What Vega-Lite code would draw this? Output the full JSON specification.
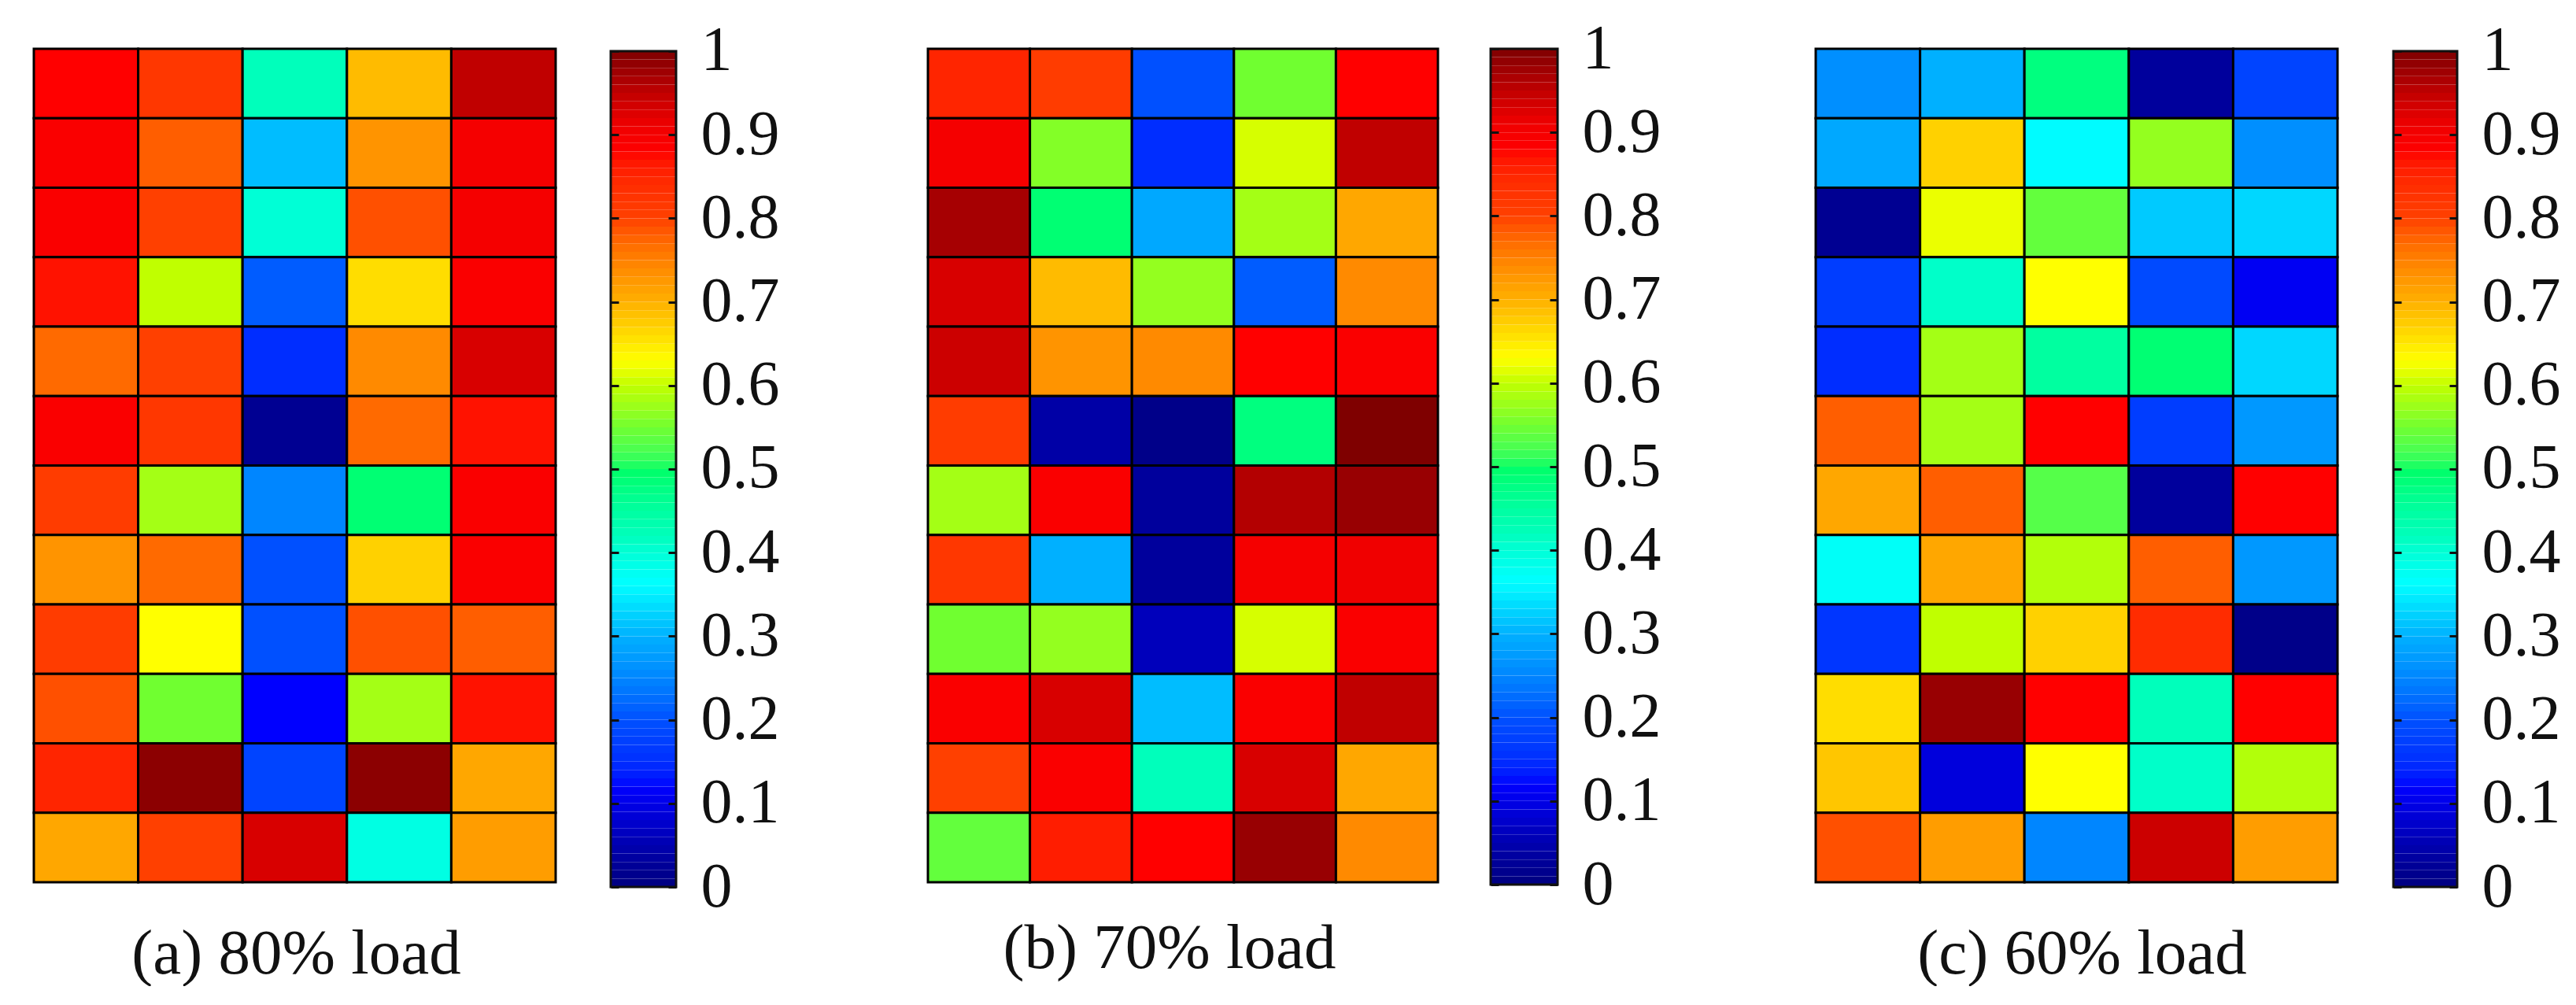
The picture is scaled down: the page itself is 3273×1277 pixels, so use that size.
{
  "$schema": "https://vega.github.io/schema/vega-lite/v6.json",
  "background": "white",
  "padding": {"left": 41, "top": 22, "right": 0, "bottom": 0},
  "spacing": 195,
  "config": {
    "view": {"stroke": null},
    "title": {"font": "Liberation Serif", "fontWeight": "normal", "fontSize": 81, "color": "#111", "orient": "bottom", "offset": 50},
    "axis": {"labelFont": "Liberation Serif", "labelFontSize": 80, "labelColor": "#111"}
  },
  "datasets": {
    "colorbar": [
      {"lo":0,"hi":0.01,"v":0.005},{"lo":0.01,"hi":0.02,"v":0.015},{"lo":0.02,"hi":0.03,"v":0.025},{"lo":0.03,"hi":0.04,"v":0.035},{"lo":0.04,"hi":0.05,"v":0.045},{"lo":0.05,"hi":0.06,"v":0.055},{"lo":0.06,"hi":0.07,"v":0.065},{"lo":0.07,"hi":0.08,"v":0.075},{"lo":0.08,"hi":0.09,"v":0.085},{"lo":0.09,"hi":0.1,"v":0.095},
      {"lo":0.1,"hi":0.11,"v":0.105},{"lo":0.11,"hi":0.12,"v":0.115},{"lo":0.12,"hi":0.13,"v":0.125},{"lo":0.13,"hi":0.14,"v":0.135},{"lo":0.14,"hi":0.15,"v":0.145},{"lo":0.15,"hi":0.16,"v":0.155},{"lo":0.16,"hi":0.17,"v":0.165},{"lo":0.17,"hi":0.18,"v":0.175},{"lo":0.18,"hi":0.19,"v":0.185},{"lo":0.19,"hi":0.2,"v":0.195},
      {"lo":0.2,"hi":0.21,"v":0.205},{"lo":0.21,"hi":0.22,"v":0.215},{"lo":0.22,"hi":0.23,"v":0.225},{"lo":0.23,"hi":0.24,"v":0.235},{"lo":0.24,"hi":0.25,"v":0.245},{"lo":0.25,"hi":0.26,"v":0.255},{"lo":0.26,"hi":0.27,"v":0.265},{"lo":0.27,"hi":0.28,"v":0.275},{"lo":0.28,"hi":0.29,"v":0.285},{"lo":0.29,"hi":0.3,"v":0.295},
      {"lo":0.3,"hi":0.31,"v":0.305},{"lo":0.31,"hi":0.32,"v":0.315},{"lo":0.32,"hi":0.33,"v":0.325},{"lo":0.33,"hi":0.34,"v":0.335},{"lo":0.34,"hi":0.35,"v":0.345},{"lo":0.35,"hi":0.36,"v":0.355},{"lo":0.36,"hi":0.37,"v":0.365},{"lo":0.37,"hi":0.38,"v":0.375},{"lo":0.38,"hi":0.39,"v":0.385},{"lo":0.39,"hi":0.4,"v":0.395},
      {"lo":0.4,"hi":0.41,"v":0.405},{"lo":0.41,"hi":0.42,"v":0.415},{"lo":0.42,"hi":0.43,"v":0.425},{"lo":0.43,"hi":0.44,"v":0.435},{"lo":0.44,"hi":0.45,"v":0.445},{"lo":0.45,"hi":0.46,"v":0.455},{"lo":0.46,"hi":0.47,"v":0.465},{"lo":0.47,"hi":0.48,"v":0.475},{"lo":0.48,"hi":0.49,"v":0.485},{"lo":0.49,"hi":0.5,"v":0.495},
      {"lo":0.5,"hi":0.51,"v":0.505},{"lo":0.51,"hi":0.52,"v":0.515},{"lo":0.52,"hi":0.53,"v":0.525},{"lo":0.53,"hi":0.54,"v":0.535},{"lo":0.54,"hi":0.55,"v":0.545},{"lo":0.55,"hi":0.56,"v":0.555},{"lo":0.56,"hi":0.57,"v":0.565},{"lo":0.57,"hi":0.58,"v":0.575},{"lo":0.58,"hi":0.59,"v":0.585},{"lo":0.59,"hi":0.6,"v":0.595},
      {"lo":0.6,"hi":0.61,"v":0.605},{"lo":0.61,"hi":0.62,"v":0.615},{"lo":0.62,"hi":0.63,"v":0.625},{"lo":0.63,"hi":0.64,"v":0.635},{"lo":0.64,"hi":0.65,"v":0.645},{"lo":0.65,"hi":0.66,"v":0.655},{"lo":0.66,"hi":0.67,"v":0.665},{"lo":0.67,"hi":0.68,"v":0.675},{"lo":0.68,"hi":0.69,"v":0.685},{"lo":0.69,"hi":0.7,"v":0.695},
      {"lo":0.7,"hi":0.71,"v":0.705},{"lo":0.71,"hi":0.72,"v":0.715},{"lo":0.72,"hi":0.73,"v":0.725},{"lo":0.73,"hi":0.74,"v":0.735},{"lo":0.74,"hi":0.75,"v":0.745},{"lo":0.75,"hi":0.76,"v":0.755},{"lo":0.76,"hi":0.77,"v":0.765},{"lo":0.77,"hi":0.78,"v":0.775},{"lo":0.78,"hi":0.79,"v":0.785},{"lo":0.79,"hi":0.8,"v":0.795},
      {"lo":0.8,"hi":0.81,"v":0.805},{"lo":0.81,"hi":0.82,"v":0.815},{"lo":0.82,"hi":0.83,"v":0.825},{"lo":0.83,"hi":0.84,"v":0.835},{"lo":0.84,"hi":0.85,"v":0.845},{"lo":0.85,"hi":0.86,"v":0.855},{"lo":0.86,"hi":0.87,"v":0.865},{"lo":0.87,"hi":0.88,"v":0.875},{"lo":0.88,"hi":0.89,"v":0.885},{"lo":0.89,"hi":0.9,"v":0.895},
      {"lo":0.9,"hi":0.91,"v":0.905},{"lo":0.91,"hi":0.92,"v":0.915},{"lo":0.92,"hi":0.93,"v":0.925},{"lo":0.93,"hi":0.94,"v":0.935},{"lo":0.94,"hi":0.95,"v":0.945},{"lo":0.95,"hi":0.96,"v":0.955},{"lo":0.96,"hi":0.97,"v":0.965},{"lo":0.97,"hi":0.98,"v":0.975},{"lo":0.98,"hi":0.99,"v":0.985},{"lo":0.99,"hi":1,"v":0.995}
    ],
    "frame": [{"lo":0,"hi":1}],
    "load80": [
      {"r":1,"c":1,"v":0.88},{"r":1,"c":2,"v":0.82},{"r":1,"c":3,"v":0.42},{"r":1,"c":4,"v":0.69},{"r":1,"c":5,"v":0.95},
      {"r":2,"c":1,"v":0.89},{"r":2,"c":2,"v":0.78},{"r":2,"c":3,"v":0.31},{"r":2,"c":4,"v":0.73},{"r":2,"c":5,"v":0.9},
      {"r":3,"c":1,"v":0.89},{"r":3,"c":2,"v":0.8},{"r":3,"c":3,"v":0.4},{"r":3,"c":4,"v":0.79},{"r":3,"c":5,"v":0.9},
      {"r":4,"c":1,"v":0.87},{"r":4,"c":2,"v":0.6},{"r":4,"c":3,"v":0.21},{"r":4,"c":4,"v":0.66},{"r":4,"c":5,"v":0.89},
      {"r":5,"c":1,"v":0.77},{"r":5,"c":2,"v":0.8},{"r":5,"c":3,"v":0.15},{"r":5,"c":4,"v":0.74},{"r":5,"c":5,"v":0.93},
      {"r":6,"c":1,"v":0.89},{"r":6,"c":2,"v":0.82},{"r":6,"c":3,"v":0.02},{"r":6,"c":4,"v":0.77},{"r":6,"c":5,"v":0.87},
      {"r":7,"c":1,"v":0.81},{"r":7,"c":2,"v":0.58},{"r":7,"c":3,"v":0.25},{"r":7,"c":4,"v":0.49},{"r":7,"c":5,"v":0.89},
      {"r":8,"c":1,"v":0.73},{"r":8,"c":2,"v":0.77},{"r":8,"c":3,"v":0.2},{"r":8,"c":4,"v":0.67},{"r":8,"c":5,"v":0.89},
      {"r":9,"c":1,"v":0.81},{"r":9,"c":2,"v":0.63},{"r":9,"c":3,"v":0.2},{"r":9,"c":4,"v":0.79},{"r":9,"c":5,"v":0.78},
      {"r":10,"c":1,"v":0.79},{"r":10,"c":2,"v":0.55},{"r":10,"c":3,"v":0.12},{"r":10,"c":4,"v":0.58},{"r":10,"c":5,"v":0.87},
      {"r":11,"c":1,"v":0.85},{"r":11,"c":2,"v":0.99},{"r":11,"c":3,"v":0.18},{"r":11,"c":4,"v":0.99},{"r":11,"c":5,"v":0.71},
      {"r":12,"c":1,"v":0.71},{"r":12,"c":2,"v":0.8},{"r":12,"c":3,"v":0.93},{"r":12,"c":4,"v":0.39},{"r":12,"c":5,"v":0.72}
    ],
    "load70": [
      {"r":1,"c":1,"v":0.85},{"r":1,"c":2,"v":0.81},{"r":1,"c":3,"v":0.2},{"r":1,"c":4,"v":0.55},{"r":1,"c":5,"v":0.88},
      {"r":2,"c":1,"v":0.9},{"r":2,"c":2,"v":0.56},{"r":2,"c":3,"v":0.15},{"r":2,"c":4,"v":0.61},{"r":2,"c":5,"v":0.95},
      {"r":3,"c":1,"v":0.97},{"r":3,"c":2,"v":0.49},{"r":3,"c":3,"v":0.29},{"r":3,"c":4,"v":0.58},{"r":3,"c":5,"v":0.71},
      {"r":4,"c":1,"v":0.93},{"r":4,"c":2,"v":0.69},{"r":4,"c":3,"v":0.57},{"r":4,"c":4,"v":0.21},{"r":4,"c":5,"v":0.74},
      {"r":5,"c":1,"v":0.94},{"r":5,"c":2,"v":0.73},{"r":5,"c":3,"v":0.74},{"r":5,"c":4,"v":0.88},{"r":5,"c":5,"v":0.89},
      {"r":6,"c":1,"v":0.81},{"r":6,"c":2,"v":0.04},{"r":6,"c":3,"v":0.01},{"r":6,"c":4,"v":0.48},{"r":6,"c":5,"v":1},
      {"r":7,"c":1,"v":0.58},{"r":7,"c":2,"v":0.89},{"r":7,"c":3,"v":0.03},{"r":7,"c":4,"v":0.96},{"r":7,"c":5,"v":0.98},
      {"r":8,"c":1,"v":0.82},{"r":8,"c":2,"v":0.3},{"r":8,"c":3,"v":0.03},{"r":8,"c":4,"v":0.9},{"r":8,"c":5,"v":0.91},
      {"r":9,"c":1,"v":0.55},{"r":9,"c":2,"v":0.57},{"r":9,"c":3,"v":0.06},{"r":9,"c":4,"v":0.61},{"r":9,"c":5,"v":0.89},
      {"r":10,"c":1,"v":0.89},{"r":10,"c":2,"v":0.93},{"r":10,"c":3,"v":0.31},{"r":10,"c":4,"v":0.89},{"r":10,"c":5,"v":0.95},
      {"r":11,"c":1,"v":0.8},{"r":11,"c":2,"v":0.89},{"r":11,"c":3,"v":0.42},{"r":11,"c":4,"v":0.93},{"r":11,"c":5,"v":0.71},
      {"r":12,"c":1,"v":0.54},{"r":12,"c":2,"v":0.86},{"r":12,"c":3,"v":0.88},{"r":12,"c":4,"v":0.98},{"r":12,"c":5,"v":0.74}
    ],
    "load60": [
      {"r":1,"c":1,"v":0.26},{"r":1,"c":2,"v":0.3},{"r":1,"c":3,"v":0.48},{"r":1,"c":4,"v":0.03},{"r":1,"c":5,"v":0.18},
      {"r":2,"c":1,"v":0.29},{"r":2,"c":2,"v":0.67},{"r":2,"c":3,"v":0.36},{"r":2,"c":4,"v":0.57},{"r":2,"c":5,"v":0.26},
      {"r":3,"c":1,"v":0.02},{"r":3,"c":2,"v":0.62},{"r":3,"c":3,"v":0.54},{"r":3,"c":4,"v":0.32},{"r":3,"c":5,"v":0.33},
      {"r":4,"c":1,"v":0.17},{"r":4,"c":2,"v":0.41},{"r":4,"c":3,"v":0.63},{"r":4,"c":4,"v":0.19},{"r":4,"c":5,"v":0.11},
      {"r":5,"c":1,"v":0.15},{"r":5,"c":2,"v":0.58},{"r":5,"c":3,"v":0.45},{"r":5,"c":4,"v":0.49},{"r":5,"c":5,"v":0.33},
      {"r":6,"c":1,"v":0.78},{"r":6,"c":2,"v":0.58},{"r":6,"c":3,"v":0.88},{"r":6,"c":4,"v":0.17},{"r":6,"c":5,"v":0.27},
      {"r":7,"c":1,"v":0.71},{"r":7,"c":2,"v":0.78},{"r":7,"c":3,"v":0.53},{"r":7,"c":4,"v":0.03},{"r":7,"c":5,"v":0.88},
      {"r":8,"c":1,"v":0.37},{"r":8,"c":2,"v":0.71},{"r":8,"c":3,"v":0.59},{"r":8,"c":4,"v":0.78},{"r":8,"c":5,"v":0.27},
      {"r":9,"c":1,"v":0.16},{"r":9,"c":2,"v":0.6},{"r":9,"c":3,"v":0.67},{"r":9,"c":4,"v":0.84},{"r":9,"c":5,"v":0.01},
      {"r":10,"c":1,"v":0.66},{"r":10,"c":2,"v":0.98},{"r":10,"c":3,"v":0.88},{"r":10,"c":4,"v":0.42},{"r":10,"c":5,"v":0.88},
      {"r":11,"c":1,"v":0.68},{"r":11,"c":2,"v":0.09},{"r":11,"c":3,"v":0.63},{"r":11,"c":4,"v":0.41},{"r":11,"c":5,"v":0.59},
      {"r":12,"c":1,"v":0.79},{"r":12,"c":2,"v":0.72},{"r":12,"c":3,"v":0.25},{"r":12,"c":4,"v":0.94},{"r":12,"c":5,"v":0.72}
    ]
  },
  "hconcat": [
    {
      "spacing": 187,
      "hconcat": [
        {
          "spacing": 66,
          "hconcat": [
            {
              "width": 663, "height": 1059,
              "title": {"text": "(a) 80% load", "dx": 2},
              "data": {"name": "load80"},
              "mark": {"type": "rect", "stroke": "#000", "strokeWidth": 3},
              "encoding": {
                "x": {"field": "c", "type": "ordinal", "axis": null, "scale": {"paddingInner": 0, "paddingOuter": 0}},
                "y": {"field": "r", "type": "ordinal", "axis": null, "scale": {"paddingInner": 0, "paddingOuter": 0}},
                "color": {"field": "v", "type": "quantitative", "legend": null, "scale": {"domain": [0, 0.05, 0.12, 0.2, 0.3, 0.363, 0.42, 0.5, 0.55, 0.6, 0.63, 0.7, 0.75, 0.8, 0.88, 0.91, 0.95, 1], "range": ["#00007f", "#0000b0", "#0000ff", "#0050ff", "#00b0ff", "#00ffff", "#00ffbb", "#00ff66", "#70ff30", "#c0ff00", "#ffff00", "#ffb000", "#ff8000", "#ff4000", "#ff0000", "#f00000", "#c00000", "#7f0000"]}}
              }
            },
            {
              "width": 83, "height": 1065,
              "layer": [
                {
                  "data": {"name": "colorbar"},
                  "mark": {"type": "rect"},
                  "encoding": {
                    "x": {"datum": 0, "type": "quantitative", "scale": {"domain": [0, 1]}, "axis": null},
                    "x2": {"datum": 1},
                    "y": {"field": "lo", "type": "quantitative", "scale": {"domain": [0, 1.00282], "nice": false}, "axis": {"orient": "right", "values": [0, 0.1, 0.2, 0.3, 0.4, 0.5, 0.6, 0.7, 0.8, 0.9, 1], "format": ".1~f", "title": null, "grid": false, "domain": false, "zindex": 1, "tickSize": -10, "tickWidth": 3, "tickColor": "#111", "labelPadding": 41, "labelFlush": false, "labelBound": false, "labelOverlap": false}},
                    "y2": {"field": "hi"},
                    "color": {"field": "v", "type": "quantitative", "legend": null, "scale": {"domain": [0, 0.05, 0.12, 0.2, 0.3, 0.363, 0.42, 0.5, 0.55, 0.6, 0.63, 0.7, 0.75, 0.8, 0.88, 0.91, 0.95, 1], "range": ["#00007f", "#0000b0", "#0000ff", "#0050ff", "#00b0ff", "#00ffff", "#00ffbb", "#00ff66", "#70ff30", "#c0ff00", "#ffff00", "#ffb000", "#ff8000", "#ff4000", "#ff0000", "#f00000", "#c00000", "#7f0000"]}}
                  }
                },
                {
                  "data": {"name": "frame"},
                  "mark": {"type": "rect", "filled": false, "stroke": "#111", "strokeWidth": 3},
                  "encoding": {
                    "x": {"datum": 0, "type": "quantitative", "axis": null},
                    "x2": {"datum": 1},
                    "y": {"field": "lo", "type": "quantitative", "axis": {"orient": "left", "values": [0, 0.1, 0.2, 0.3, 0.4, 0.5, 0.6, 0.7, 0.8, 0.9, 1], "labels": false, "title": null, "grid": false, "domain": false, "zindex": 1, "tickSize": -10, "tickWidth": 3, "tickColor": "#111"}},
                    "y2": {"field": "hi"}
                  }
                }
              ],
              "resolve": {"axis": {"y": "independent"}}
            }
          ]
        },
        {
          "spacing": 63,
          "hconcat": [
            {
              "width": 648, "height": 1059,
              "title": {"text": "(b) 70% load", "dx": -17, "offset": 43},
              "data": {"name": "load70"},
              "mark": {"type": "rect", "stroke": "#000", "strokeWidth": 3},
              "encoding": {
                "x": {"field": "c", "type": "ordinal", "axis": null, "scale": {"paddingInner": 0, "paddingOuter": 0}},
                "y": {"field": "r", "type": "ordinal", "axis": null, "scale": {"paddingInner": 0, "paddingOuter": 0}},
                "color": {"field": "v", "type": "quantitative", "legend": null, "scale": {"domain": [0, 0.05, 0.12, 0.2, 0.3, 0.363, 0.42, 0.5, 0.55, 0.6, 0.63, 0.7, 0.75, 0.8, 0.88, 0.91, 0.95, 1], "range": ["#00007f", "#0000b0", "#0000ff", "#0050ff", "#00b0ff", "#00ffff", "#00ffbb", "#00ff66", "#70ff30", "#c0ff00", "#ffff00", "#ffb000", "#ff8000", "#ff4000", "#ff0000", "#f00000", "#c00000", "#7f0000"]}}
              }
            },
            {
              "width": 85, "height": 1062,
              "layer": [
                {
                  "data": {"name": "colorbar"},
                  "mark": {"type": "rect"},
                  "encoding": {
                    "x": {"datum": 0, "type": "quantitative", "scale": {"domain": [0, 1]}, "axis": null},
                    "x2": {"datum": 1},
                    "y": {"field": "lo", "type": "quantitative", "scale": {"domain": [0, 1], "nice": false}, "axis": {"orient": "right", "values": [0, 0.1, 0.2, 0.3, 0.4, 0.5, 0.6, 0.7, 0.8, 0.9, 1], "format": ".1~f", "title": null, "grid": false, "domain": false, "zindex": 1, "tickSize": -10, "tickWidth": 3, "tickColor": "#111", "labelPadding": 41, "labelFlush": false, "labelBound": false, "labelOverlap": false}},
                    "y2": {"field": "hi"},
                    "color": {"field": "v", "type": "quantitative", "legend": null, "scale": {"domain": [0, 0.05, 0.12, 0.2, 0.3, 0.363, 0.42, 0.5, 0.55, 0.6, 0.63, 0.7, 0.75, 0.8, 0.88, 0.91, 0.95, 1], "range": ["#00007f", "#0000b0", "#0000ff", "#0050ff", "#00b0ff", "#00ffff", "#00ffbb", "#00ff66", "#70ff30", "#c0ff00", "#ffff00", "#ffb000", "#ff8000", "#ff4000", "#ff0000", "#f00000", "#c00000", "#7f0000"]}}
                  }
                },
                {
                  "data": {"name": "frame"},
                  "mark": {"type": "rect", "filled": false, "stroke": "#111", "strokeWidth": 3},
                  "encoding": {
                    "x": {"datum": 0, "type": "quantitative", "axis": null},
                    "x2": {"datum": 1},
                    "y": {"field": "lo", "type": "quantitative", "axis": {"orient": "left", "values": [0, 0.1, 0.2, 0.3, 0.4, 0.5, 0.6, 0.7, 0.8, 0.9, 1], "labels": false, "title": null, "grid": false, "domain": false, "zindex": 1, "tickSize": -10, "tickWidth": 3, "tickColor": "#111"}},
                    "y2": {"field": "hi"}
                  }
                }
              ],
              "resolve": {"axis": {"y": "independent"}}
            }
          ]
        }
      ]
    },
    {
      "spacing": 67,
      "hconcat": [
        {
          "width": 663, "height": 1059,
          "title": {"text": "(c) 60% load", "dx": 7},
          "data": {"name": "load60"},
          "mark": {"type": "rect", "stroke": "#000", "strokeWidth": 3},
          "encoding": {
            "x": {"field": "c", "type": "ordinal", "axis": null, "scale": {"paddingInner": 0, "paddingOuter": 0}},
            "y": {"field": "r", "type": "ordinal", "axis": null, "scale": {"paddingInner": 0, "paddingOuter": 0}},
            "color": {"field": "v", "type": "quantitative", "legend": null, "scale": {"domain": [0, 0.05, 0.12, 0.2, 0.3, 0.363, 0.42, 0.5, 0.55, 0.6, 0.63, 0.7, 0.75, 0.8, 0.88, 0.91, 0.95, 1], "range": ["#00007f", "#0000b0", "#0000ff", "#0050ff", "#00b0ff", "#00ffff", "#00ffbb", "#00ff66", "#70ff30", "#c0ff00", "#ffff00", "#ffb000", "#ff8000", "#ff4000", "#ff0000", "#f00000", "#c00000", "#7f0000"]}}
          }
        },
        {
          "width": 81, "height": 1065,
          "layer": [
            {
              "data": {"name": "colorbar"},
              "mark": {"type": "rect"},
              "encoding": {
                "x": {"datum": 0, "type": "quantitative", "scale": {"domain": [0, 1]}, "axis": null},
                "x2": {"datum": 1},
                "y": {"field": "lo", "type": "quantitative", "scale": {"domain": [0, 1.00282], "nice": false}, "axis": {"orient": "right", "values": [0, 0.1, 0.2, 0.3, 0.4, 0.5, 0.6, 0.7, 0.8, 0.9, 1], "format": ".1~f", "title": null, "grid": false, "domain": false, "zindex": 1, "tickSize": -10, "tickWidth": 3, "tickColor": "#111", "labelPadding": 41, "labelFlush": false, "labelBound": false, "labelOverlap": false}},
                "y2": {"field": "hi"},
                "color": {"field": "v", "type": "quantitative", "legend": null, "scale": {"domain": [0, 0.05, 0.12, 0.2, 0.3, 0.363, 0.42, 0.5, 0.55, 0.6, 0.63, 0.7, 0.75, 0.8, 0.88, 0.91, 0.95, 1], "range": ["#00007f", "#0000b0", "#0000ff", "#0050ff", "#00b0ff", "#00ffff", "#00ffbb", "#00ff66", "#70ff30", "#c0ff00", "#ffff00", "#ffb000", "#ff8000", "#ff4000", "#ff0000", "#f00000", "#c00000", "#7f0000"]}}
              }
            },
            {
              "data": {"name": "frame"},
              "mark": {"type": "rect", "filled": false, "stroke": "#111", "strokeWidth": 3},
              "encoding": {
                "x": {"datum": 0, "type": "quantitative", "axis": null},
                "x2": {"datum": 1},
                "y": {"field": "lo", "type": "quantitative", "axis": {"orient": "left", "values": [0, 0.1, 0.2, 0.3, 0.4, 0.5, 0.6, 0.7, 0.8, 0.9, 1], "labels": false, "title": null, "grid": false, "domain": false, "zindex": 1, "tickSize": -10, "tickWidth": 3, "tickColor": "#111"}},
                "y2": {"field": "hi"}
              }
            }
          ],
          "resolve": {"axis": {"y": "independent"}}
        }
      ]
    }
  ]
}
